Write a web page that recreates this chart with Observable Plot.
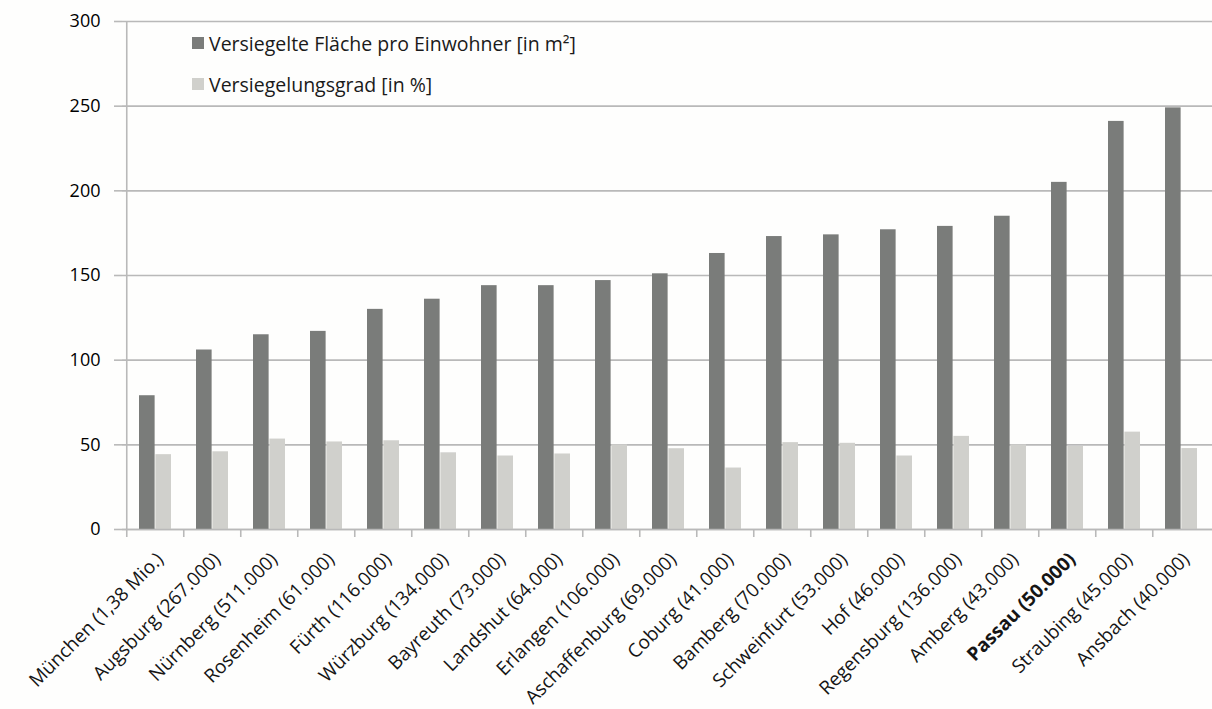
<!DOCTYPE html>
<html><head><meta charset="utf-8">
<script src="https://cdn.jsdelivr.net/npm/d3@7"></script>
<script src="https://cdn.jsdelivr.net/npm/@observablehq/plot@0.6"></script>
<style>
html,body{margin:0;padding:0;background:#fefefd;overflow:hidden}
#wrap{position:relative;width:1212px;height:709px}
.legend{position:absolute;left:192px;height:24px;font-family:"Open Sans";font-size:19.5px;color:#1a1a1a;display:flex;align-items:center;white-space:nowrap}
.sw{width:12px;height:12px;margin-right:5px;flex:none}
svg{display:block}
</style></head><body><div id="wrap"></div>
<script>
const cities = ["München (1,38 Mio.)","Augsburg (267.000)","Nürnberg (511.000)","Rosenheim (61.000)","Fürth (116.000)","Würzburg (134.000)","Bayreuth (73.000)","Landshut (64.000)","Erlangen (106.000)","Aschaffenburg (69.000)","Coburg (41.000)","Bamberg (70.000)","Schweinfurt (53.000)","Hof (46.000)","Regensburg (136.000)","Amberg (43.000)","Passau (50.000)","Straubing (45.000)","Ansbach (40.000)"];
const flaeche = [79,106,115,117,130,136,144,144,147,151,163,173,174,177,179,185,205,241,249];
const grad = [44.2,45.9,53.4,51.7,52.4,45.3,43.4,44.6,50,47.7,36.3,51.3,50.9,43.4,55,50,49.1,57.5,47.8];
const seriesNames = ["Versiegelte Fläche pro Einwohner [in m²]","Versiegelungsgrad [in %]"];
const seriesColors = ["#7a7c7a","#d0d0cc"];
const yTicks = [0,50,100,150,200,250,300];
const boldCity = "Passau (50.000)";

const rows = cities.map((c,i)=>({city:c, flaeche:flaeche[i], grad:grad[i]}));

const W=1212,H=709,mL=122,mR=-2,mT=21,mB=180;
const n = cities.length;
const step = (W-mL-mR)/n;
const pad = 0.43;
const bw = step*(1-pad);
const gridColor = "#b9b9b9";
const font = "Open Sans";
const labelOpts = {x:d=>d, text:d=>d, frameAnchor:"bottom", rotate:-45, textAnchor:"end", dx:9, dy:31, fontSize:19, fill:"#151515"};

const chart = Plot.plot({
  width:W, height:H, marginLeft:mL, marginRight:mR, marginTop:mT, marginBottom:mB,
  style:{background:"transparent", fontFamily:font, fontSize:"18px", color:"#000", overflow:"hidden"},
  x:{domain:cities, paddingInner:pad, paddingOuter:pad/2, axis:null},
  y:{domain:[0,300], axis:null},
  marks:[
    Plot.gridY(yTicks, {stroke:gridColor, strokeOpacity:1, strokeWidth:1.6}),
    Plot.axisY(yTicks, {tickSize:8, tickPadding:14, stroke:gridColor, strokeWidth:1.6, fill:"#000", fontSize:18, label:null}),
    Plot.ruleX([cities[0]], {dx:-step/2, y1:0, y2:300, stroke:gridColor, strokeWidth:1.6}),
    Plot.axisX(cities, {tickSize:8, tickFormat:()=>"", dx:-step/2, stroke:gridColor, strokeWidth:1.6, label:null}),
    Plot.barY(rows, {x:"city", y:"flaeche", fill:seriesColors[0], insetRight:bw/2, insetLeft:0}),
    Plot.barY(rows, {x:"city", y:"grad", fill:seriesColors[1], insetLeft:bw/2, insetRight:0}),
    Plot.ruleY([0], {stroke:gridColor, strokeWidth:1.6}),
    Plot.text(cities.filter(c=>c!==boldCity), labelOpts),
    Plot.text([boldCity], {...labelOpts, fontWeight:"bold"})
  ]
});
const wrap = document.getElementById("wrap");
wrap.appendChild(chart);
const legendTops = [31,72];
seriesNames.forEach((s,i)=>{
  const d = document.createElement("div");
  d.className="legend";
  d.style.top = legendTops[i]+"px";
  const sw = document.createElement("span");
  sw.className="sw"; sw.style.background = seriesColors[i];
  const t = document.createElement("span"); t.textContent = s;
  d.appendChild(sw); d.appendChild(t);
  wrap.appendChild(d);
});
</script>
</body></html>
